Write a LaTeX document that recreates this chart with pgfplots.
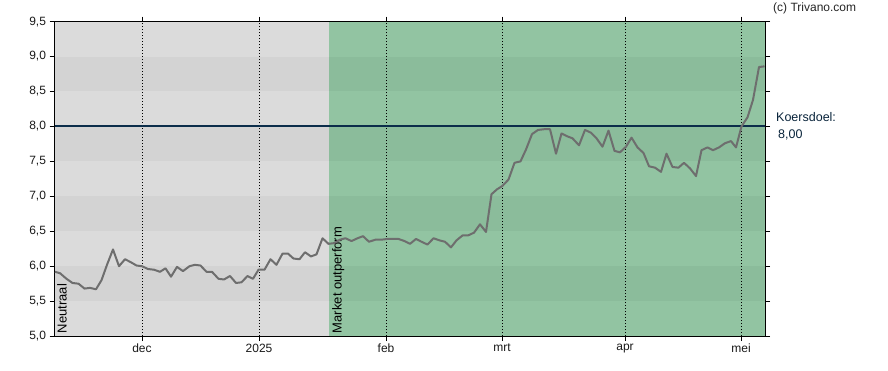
\documentclass[border=0pt]{standalone}
\usepackage{pgfplots}
\pgfplotsset{compat=1.18}
\usepackage{fontspec}
\setmainfont{Liberation Sans}
\definecolor{gl}{HTML}{DBDBDB}
\definecolor{gd}{HTML}{D3D3D3}
\definecolor{nl}{HTML}{92C4A2}
\definecolor{nd}{HTML}{8BBC9B}
\definecolor{pline}{HTML}{6E6E6E}
\definecolor{navy}{HTML}{0B2D4A}
\pgfplotstableread{
x y
55 5.92
60 5.90
66.5 5.82
72.5 5.76
78.5 5.75
84.5 5.68
90 5.69
96 5.67
101.5 5.80
107 6.02
113 6.24
119 6.00
125 6.10
130.5 6.06
136.5 6.01
142 6.00
148 5.96
154 5.95
160 5.92
165.5 5.97
171 5.85
177 5.99
183 5.93
189.5 6.00
195 6.02
200.5 6.01
206.5 5.92
212 5.92
218.5 5.82
224 5.81
230 5.86
236 5.76
241.5 5.77
247.5 5.86
253 5.82
258.5 5.95
264.5 5.95
270.5 6.10
276.5 6.02
282.5 6.18
288 6.18
293.5 6.11
299.5 6.10
305 6.20
311 6.14
316.5 6.17
322.5 6.40
328.5 6.32
334 6.33
340 6.38
345.5 6.40
351.5 6.36
357.5 6.40
363 6.43
369 6.35
375.5 6.38
381.5 6.38
387.5 6.39
393 6.39
398.5 6.39
404.5 6.36
410 6.32
416 6.39
421.5 6.35
427.5 6.31
433.5 6.40
439.5 6.37
445 6.35
451 6.27
456.5 6.37
462.5 6.44
468 6.44
474 6.48
480 6.60
486 6.49
491.5 7.03
497 7.10
502.5 7.15
508.5 7.24
514.5 7.48
520.5 7.50
526 7.67
532 7.89
538 7.95
544 7.96
550 7.96
556 7.61
561.5 7.90
567 7.86
572.5 7.83
579 7.73
585 7.95
591 7.91
596.5 7.83
602.5 7.71
608.5 7.94
614.5 7.65
620 7.63
626 7.71
631.5 7.84
637.5 7.70
643.5 7.62
649 7.43
655 7.41
661 7.35
666.5 7.61
672.5 7.42
678.5 7.41
684 7.48
690 7.40
696 7.29
701.5 7.66
707.5 7.70
713 7.66
719 7.70
725 7.76
731 7.79
736 7.70
741.5 8.00
747.5 8.13
753 8.38
759 8.85
764.5 8.86
}\price
\begin{document}
\begin{tikzpicture}[x=1pt,y=1pt]
\begin{axis}[
  at={(54.5,48.5)}, anchor=south west,
  width=710.5pt, height=314.5pt, scale only axis,
  xmin=54.5, xmax=765, ymin=5, ymax=9.5,
  ytick={5,5.5,6,6.5,7,7.5,8,8.5,9,9.5},
  xtick={142,259,386,502,625,741},
  xticklabels={dec,2025,feb,mrt,apr,mei},
  tick align=outside, major tick length=5pt,
  tick style={black, line width=0.8pt},
  axis line style={black, line width=1pt},
  ticklabel style={font=\fontsize{12}{14}\selectfont, text=black!90},
  yticklabel style={/pgf/number format/.cd, fixed, fixed zerofill, precision=1, use comma},
  /pgf/number format/assume math mode=true,
  xticklabel style={yshift=1pt},
]
% gray zone
\fill[gl] (axis cs:54.5,5) rectangle (axis cs:329.3,9.5);
\fill[gd] (axis cs:54.5,5.5) rectangle (axis cs:329.3,6.0);
\fill[gd] (axis cs:54.5,6.5) rectangle (axis cs:329.3,7.0);
\fill[gd] (axis cs:54.5,7.5) rectangle (axis cs:329.3,8.0);
\fill[gd] (axis cs:54.5,8.5) rectangle (axis cs:329.3,9.0);
% green zone
\fill[nl] (axis cs:329.3,5) rectangle (axis cs:765,9.5);
\fill[nd] (axis cs:329.3,5.5) rectangle (axis cs:765,6.0);
\fill[nd] (axis cs:329.3,6.5) rectangle (axis cs:765,7.0);
\fill[nd] (axis cs:329.3,7.5) rectangle (axis cs:765,8.0);
\fill[nd] (axis cs:329.3,8.5) rectangle (axis cs:765,9.0);
% month grid
\foreach \gx in {142,259,386,502,625,741}{
  \edef\tmp{\noexpand\draw[black, line width=0.9pt, dash pattern=on 1pt off 2pt] (axis cs:\gx,5) -- (axis cs:\gx,9.5);}\tmp
}
\node[rotate=90, anchor=north west, inner sep=0pt, font=\fontsize{13}{15}\selectfont] at (axis cs:57,5.04) {Neutraal};
\node[rotate=90, anchor=north west, inner sep=0pt, font=\fontsize{13}{15}\selectfont] at (axis cs:332,5.04) {Market outperform};
\addplot[navy, line width=2pt, forget plot] coordinates {(54.5,8) (765,8)};
\addplot[pline, line width=2pt, line join=round] table[x=x,y=y] {\price};
\end{axis}
\node[anchor=west, inner sep=0pt, text=navy!80!black, font=\fontsize{12.5}{15}\selectfont] at (776,253) {Koersdoel:};
\node[anchor=west, inner sep=0pt, text=navy!80!black, font=\fontsize{12.5}{15}\selectfont] at (778,235) {8,00};
\node[anchor=west, inner sep=0pt, text=black!85, font=\fontsize{12}{14}\selectfont] at (773,362) {(c) Trivano.com};
\pgfresetboundingbox
\path[use as bounding box] (0,0) rectangle (888,370);
\end{tikzpicture}
\end{document}
